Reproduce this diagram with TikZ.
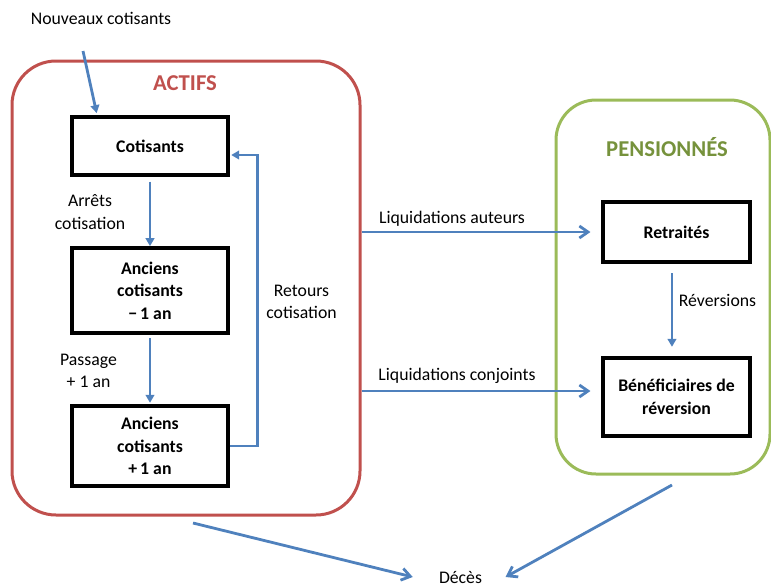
\documentclass[tikz,border=0pt]{standalone}
\usepackage{fontspec}
\setmainfont{Carlito}
\usepackage{tikz}
\usetikzlibrary{arrows.meta}
\tikzstyle{canvas} = [x = 0.75pt, y = -0.75pt, every node/.style={font=\fontsize{13.3}{16.8}\selectfont}]
\definecolor{actifsColor}{HTML}{C0504D}
\definecolor{pensionColor}{HTML}{9BBB59}
\definecolor{pensionText}{HTML}{76923C}
\definecolor{flowColor}{HTML}{4F81BD}
\tikzstyle{groupFrame} = [draw, line width = 2.25pt, rounded corners = 33pt, inner sep = 0pt]
\tikzstyle{groupTitle} = [font=\fontsize{17}{20}\selectfont\bfseries]
\tikzstyle{stockBox} = [draw=black, line width = 2.8pt, inner sep = 0pt, minimum width = 110pt, align=center, font=\fontsize{13.3}{16.8}\selectfont\bfseries]
\tikzstyle{flowArrow} = [draw=flowColor, line width = 2.1pt, -{Triangle[length=6pt, width=6.5pt]}]
\tikzstyle{openArrow} = [draw=flowColor, line width = 2.1pt, -{Straight Barb[length=6.5pt, width=9pt]}]
\tikzstyle{flowText} = [align=center, inner sep = 0pt]

\begin{document}
\begin{tikzpicture}[canvas]
  \useasboundingbox (0,0) rectangle (771,586);
  % groups
  \node [groupFrame, draw=actifsColor, minimum width = 261pt, minimum height = 340.5pt] (actifs) at (186,288) {};
  \node [groupFrame, draw=pensionColor, rounded corners = 30pt, minimum width = 160.5pt, minimum height = 280.5pt] (pension) at (663,287) {};
  \node [groupTitle, text=actifsColor] (actifsTitle) at (185,83) {ACTIFS};
  \node [groupTitle, text=pensionText] (pensionTitle) at (667,147) {PENSIONNÉS};

  % stocks
  \node [stockBox, minimum width = 117pt, minimum height = 43.5pt] (cot) at (150,146) {Cotisants};
  \node [stockBox, minimum width = 117pt, minimum height = 63.75pt] (anc1) at (150,290.5) {Anciens\\cotisants\\−\,1 an};
  \node [stockBox, minimum width = 117pt, minimum height = 60pt] (anc2) at (150,446) {Anciens\\cotisants\\+\,1 an};
  \node [stockBox, minimum width = 110.25pt, minimum height = 45pt] (ret) at (676.5,232) {Retraités};
  \node [stockBox, minimum width = 110.25pt, minimum height = 58.5pt] (benef) at (676.5,397) {Bénéficiaires de\\réversion};

  % labels
  \node [flowText] (nouveaux) at (101,18) {Nouveaux cotisants};
  \node [flowText] (arretLabel) at (90,212) {Arrêts\\cotisation};
  \node [flowText] (passLabel) at (88.5,371) {Passage\\+ 1 an};
  \node [flowText] (retourLabel) at (301.5,302) {Retours\\cotisation};
  \node [flowText] (liqAutLabel) at (452,219) {Liquidations auteurs};
  \node [flowText] (liqConjLabel) at (457,376) {Liquidations conjoints};
  \node [flowText] (revLabel) at (717.5,300) {Réversions};
  \node [flowText] (deces) at (460.5,577) {Décès};

  % flows
  \coordinate (newIn) at (83,51);
  \coordinate (actifsOut) at (193,523);
  \coordinate (pensionOut) at (672,485);
  \draw [flowArrow] (newIn) -- ([xshift=-40pt, yshift=1.5pt]cot.north);
  \draw [flowArrow, shorten <= 3.5pt] (cot) -- (anc1);
  \draw [flowArrow, shorten <= 2.5pt, shorten >= 1pt] (anc1) -- (anc2);
  \draw [flowArrow, shorten >= 1pt] (anc2.east) -- ++(28,0) |- ([yshift=-6.75pt]cot.east);
  \draw [openArrow, shorten >= 8pt] (actifs.east |- ret.west) -- (ret.west);
  \draw [openArrow, shorten >= 8pt] (actifs.east |- benef.west) ++(0,-6) -- ([yshift=4.5pt]benef.west);
  \draw [flowArrow, shorten <= 7pt, shorten >= 7pt] ([xshift=-3.4pt]ret.south) -- ([xshift=-3.4pt]benef.north);
  \draw [openArrow] (actifsOut) -- ([xshift=-19.5pt]deces.west);
  \draw [openArrow] (pensionOut) -- ([xshift=17.5pt]deces.east);
\end{tikzpicture}
\end{document}
